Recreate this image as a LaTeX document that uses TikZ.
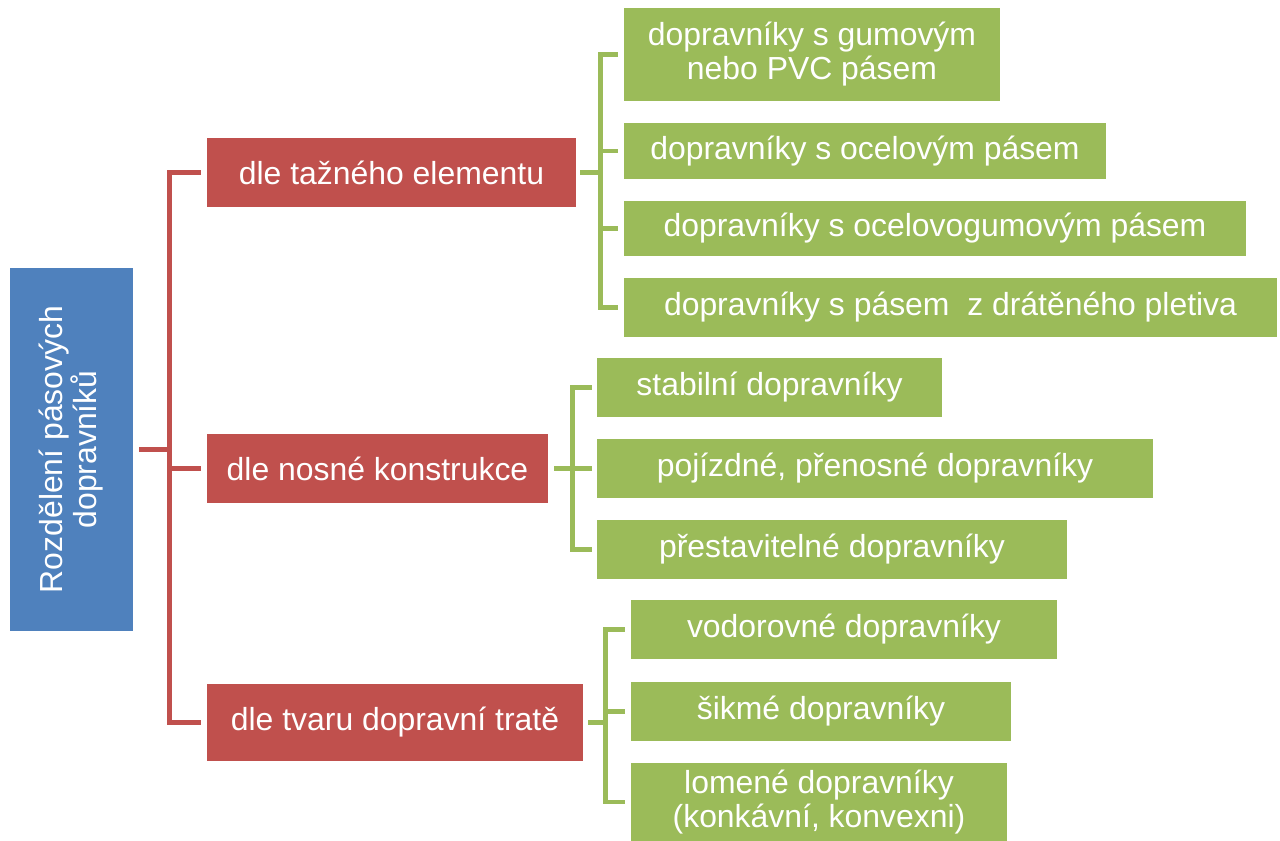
\documentclass[tikz,border=0pt]{standalone}
\usepackage{fontspec}
\setmainfont{Liberation Sans}
\definecolor{rootblue}{HTML}{4F81BD}
\definecolor{catred}{HTML}{C0504D}
\definecolor{typegreen}{HTML}{9BBB59}
\tikzset{
  box/.style={rectangle, inner sep=0pt, text=white, align=center,
    font=\fontsize{22.7}{24.2}\selectfont},
  rootbox/.style={box, fill=rootblue, rotate=90},
  catbox/.style={box, fill=catred},
  typebox/.style={box, fill=typegreen},
  redline/.style={draw=catred, line width=3.2pt},
  greenline/.style={draw=typegreen, line width=3.2pt}
}
\begin{document}
\begin{tikzpicture}
\useasboundingbox (0,0) rectangle (32,-21.025);
\node[rootbox, minimum width=9.075cm, minimum height=3.075cm] (root) at (1.7875,-11.2375) {Rozdělení pásových\\dopravníků};

\node[catbox, minimum width=9.225cm, minimum height=1.725cm] (r1) at (9.7875,-4.3125) {dle tažného elementu};
\node[catbox, minimum width=8.525cm, minimum height=1.725cm] (r2) at (9.4375,-11.7125) {dle nosné konstrukce};
\node[catbox, minimum width=9.4cm, minimum height=1.925cm] (r3) at (9.875,-18.0625) {dle tvaru dopravní tratě};

\node[typebox, minimum width=9.4cm, minimum height=2.325cm] (g1) at (20.3,-1.3625) {dopravníky s gumovým\\nebo PVC pásem};
\node[typebox, minimum width=12.05cm, minimum height=1.4cm] (g2) at (21.625,-3.775) {dopravníky s ocelovým pásem};
\node[typebox, minimum width=15.55cm, minimum height=1.375cm] (g3) at (23.375,-5.7125) {dopravníky s ocelovogumovým pásem};
\node[typebox, minimum width=16.325cm, minimum height=1.475cm] (g4) at (23.7625,-7.6875) {dopravníky s pásem\ \ z drátěného pletiva};

\node[typebox, minimum width=8.625cm, minimum height=1.475cm] (g5) at (19.2375,-9.6875) {stabilní dopravníky};
\node[typebox, minimum width=13.9cm, minimum height=1.475cm] (g6) at (21.875,-11.7125) {pojízdné, přenosné dopravníky};
\node[typebox, minimum width=11.75cm, minimum height=1.475cm] (g7) at (20.8,-13.7375) {přestavitelné dopravníky};

\node[typebox, minimum width=10.65cm, minimum height=1.475cm] (g8) at (21.1,-15.7375) {vodorovné dopravníky};
\node[typebox, minimum width=9.5cm, minimum height=1.475cm] (g9) at (20.525,-17.7875) {šikmé dopravníky};
\node[typebox, minimum width=9.4cm, minimum height=1.95cm] (g10) at (20.475,-20.05) {lomené dopravníky\\(konkávní, konvexni)};

\draw[redline] ([xshift=.15cm]root.south) -- ++(.8,0);
\draw[redline] ([xshift=-.15cm]r1.west) -- ++(-.775,0) |- ([xshift=-.15cm]r3.west);
\draw[redline] ([xshift=-.15cm]r2.west) -- ++(-.775,0);

\draw[greenline] ([xshift=.1cm]r1.east) -- ++(.525,0);
\draw[greenline] ([xshift=-.15cm]g1.west) -- ++(-.425,0) |- ([xshift=-.15cm]g4.west);
\foreach \n in {g2,g3}
  \draw[greenline] ([xshift=-.15cm]\n.west) -- ++(-.425,0);

\draw[greenline] ([xshift=.15cm]r2.east) -- ++(.475,0);
\draw[greenline] ([xshift=-.125cm]g5.west) -- ++(-.475,0) |- ([xshift=-.125cm]g7.west);
\draw[greenline] ([xshift=-.125cm]g6.west) -- ++(-.475,0);

\draw[greenline] ([xshift=.125cm]r3.east) -- ++(.45,0);
\draw[greenline] ([xshift=-.15cm]g8.west) -- ++(-.475,0) |- ([xshift=-.15cm]g10.west);
\draw[greenline] ([xshift=-.15cm]g9.west) -- ++(-.475,0);
\end{tikzpicture}
\end{document}
